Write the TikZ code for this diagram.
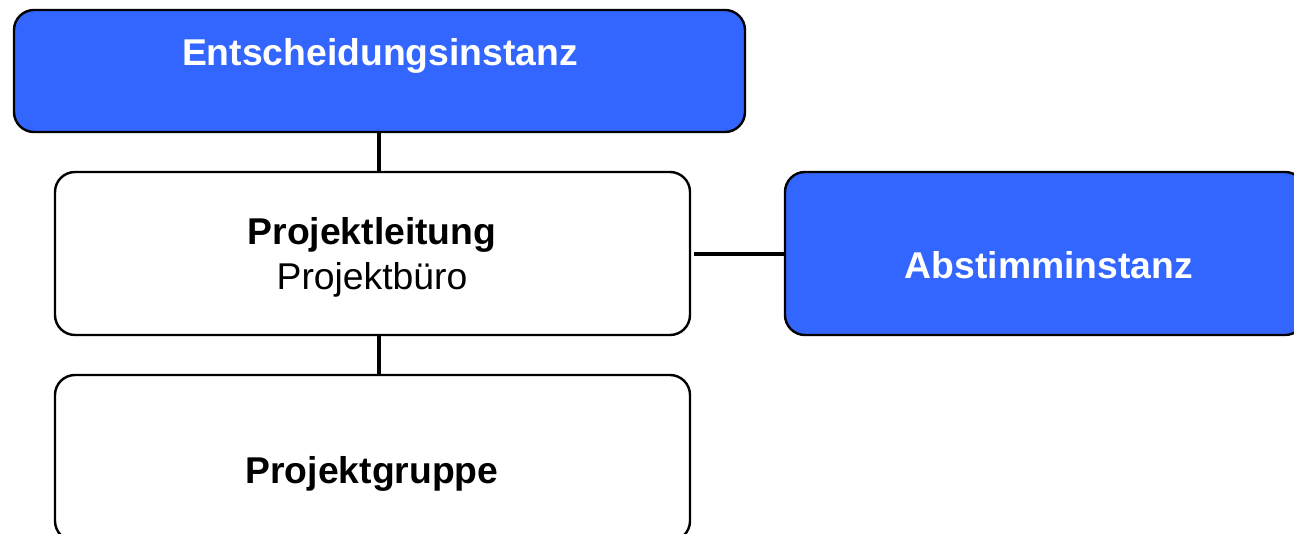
\documentclass[tikz,border=0pt]{standalone}
\usepackage{fontspec}
\setmainfont{Liberation Sans}
\definecolor{boxblue}{HTML}{3366FF}
\begin{document}
\begin{tikzpicture}[x=1pt,y=-1pt,
  orgbox/.style={draw=black,line width=2.4pt,rounded corners=20pt,inner sep=0pt},
  bluebox/.style={orgbox,fill=boxblue},
  whitebox/.style={orgbox,fill=white},
  conn/.style={line width=3.4pt},
  lbl/.style={font=\fontsize{37.3}{42}\selectfont\bfseries,anchor=base,inner sep=0pt},
  sublbl/.style={font=\fontsize{37.3}{42}\selectfont,anchor=base,inner sep=0pt}]
\useasboundingbox (0,0) rectangle (1294,534);
\begin{scope}
\clip (0,0) rectangle (1294,534);
\node[bluebox,minimum width=731pt,minimum height=122pt] (ent) at (379.5,71) {};
\node[whitebox,minimum width=635pt,minimum height=163pt] (pl) at (372.5,253.5) {};
\node[bluebox,minimum width=520pt,minimum height=163pt] (abs) at (1045,253.5) {};
\node[whitebox,minimum width=635pt,minimum height=166pt] (pg) at (372.5,458) {};
\end{scope}
\node[lbl,text=white] (entt) at (380,66) {Entscheidungsinstanz};
\node[lbl] (plt) at (372,245) {Projektleitung};
\node[sublbl] (plb) at (372,290) {Projektbüro};
\node[lbl,text=white] (abst) at (1049,279) {Abstimminstanz};
\node[lbl] (pgt) at (372,484) {Projektgruppe};
\draw[conn] (ent.south -| 379,0) -- (pl.north -| 379,0);
\draw[conn] (pl.south -| 379,0) -- (pg.north -| 379,0);
\draw[conn] ([xshift=3pt]pl.east |- 0,254) -- (abs.west |- 0,254);
\end{tikzpicture}
\end{document}
